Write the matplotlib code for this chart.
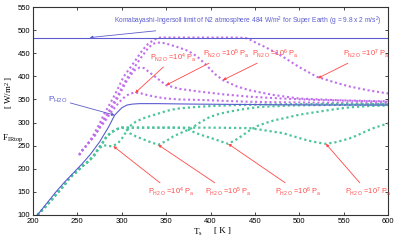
import numpy as np
import matplotlib
matplotlib.use('Agg')
import matplotlib.pyplot as plt

plt.rcParams['font.family'] = ['Liberation Sans', 'DejaVu Sans']
plt.rcParams['mathtext.default'] = 'regular'

# pure water curve (solid blue)
T_h2o = [205, 215, 225, 235, 245, 255, 265, 275, 285, 292, 300, 306, 312, 320, 340, 380, 450, 520, 600]
F_h2o = [100, 124, 148, 170, 190, 210, 232, 258, 290, 316, 332, 338, 340, 341, 341, 340, 339, 338, 338]

# Komabayashi-Ingersoll limit
F_ki = 484

# common low part of the H2O curves
T_g0 = [205, 210, 215, 220, 225, 230, 235, 240, 245, 250, 255, 260, 265, 270, 274]
F_g0 = [100, 110, 120, 131, 142, 153, 164, 177, 187, 195, 205, 212, 221, 232, 244]

T_g4 = [280, 285, 290, 296, 300, 305, 309, 316, 324, 332, 347, 356, 366, 385, 403, 430, 456, 500, 550, 600]
F_g4 = [251, 249, 249, 256, 265, 280, 292, 302, 309, 314, 323, 328, 331, 334, 336, 338, 339, 340, 340, 340]

T_g5 = [279, 283, 289, 295, 300, 305, 309, 316, 324, 332, 341, 350, 358, 367, 377, 388, 399, 410, 422, 440, 456, 490, 530, 600]
F_g5 = [258, 270, 280, 286, 289, 286, 277, 270, 264, 258, 252, 260, 270, 278, 286, 300, 312, 319, 324, 330, 334, 337, 338, 339]

T_g6 = [279, 283, 289, 295, 300, 320, 340, 360, 370, 377, 384, 393, 403, 412, 420, 428, 436, 444, 452, 462, 472, 482, 500, 520, 540, 557, 580, 600]
F_g6 = [258, 270, 280, 286, 289, 289, 289, 289, 288, 283, 277, 271, 265, 259, 254, 262, 272, 283, 292, 299, 305, 309, 317, 323, 329, 333, 336, 337]

T_g7 = [279, 283, 289, 295, 300, 340, 400, 444, 455, 465, 482, 492, 501, 510, 520, 530, 540, 550, 557, 565, 575, 585, 600]
F_g7 = [258, 270, 280, 286, 289, 289, 289, 288, 285, 282, 277, 271, 266, 261, 257, 254, 257, 262, 266, 272, 281, 289, 298]

# N2 curves
T_p4 = [252, 256, 261, 266, 270, 275, 280, 285, 290, 295, 300, 305, 310, 315, 320, 330, 340, 351, 365, 388, 415, 444, 480, 520, 560, 600]
F_p4 = [230, 241, 252, 264, 273, 288, 300, 314, 327, 339, 350, 358, 363, 365, 364, 359, 355, 352, 350, 349, 347, 345, 344, 343, 342, 342]

T_p5 = [252, 256, 261, 266, 270, 275, 280, 285, 290, 295, 300, 305, 310, 315, 320, 325, 335, 350, 365, 388, 415, 444, 480, 520, 560, 600]
F_p5 = [230, 241, 252, 264, 273, 290, 305, 320, 335, 352, 370, 388, 403, 414, 419, 418, 403, 381, 373, 367, 361, 356, 352, 349, 347, 345]

T_p6 = [252, 256, 261, 266, 270, 275, 280, 285, 290, 295, 300, 305, 310, 315, 320, 325, 330, 335, 339, 345, 350, 362, 375, 385, 395, 405, 414, 430, 444, 470, 500, 550, 600]
F_p6 = [230, 241, 252, 264, 274, 290, 308, 323, 340, 357, 375, 393, 408, 422, 436, 449, 462, 470, 473, 473, 471, 464, 455, 443, 425, 405, 392, 378, 370, 360, 352, 348, 346]

T_p7 = [252, 256, 261, 266, 270, 275, 280, 285, 290, 296, 302, 310, 317, 323, 330, 337, 343, 360, 400, 430, 440, 445, 452, 460, 470, 482, 500, 520, 540, 557, 580, 600]
F_p7 = [230, 241, 252, 266, 280, 298, 318, 335, 352, 375, 399, 420, 439, 456, 471, 480, 484, 484, 484, 484, 483, 479, 472, 465, 455, 442, 420, 399, 387, 378, 369, 363]

exps = ['4', '5', '6', '7']

blue = '#5c5cd0'
purple = '#c070ec'
green = '#4cc49c'
red = '#ff4848'

fig = plt.figure(figsize=(4, 2.44), dpi=100)
ax = fig.add_axes([0.0825, 0.119, 0.8875, 0.852])

dots = (0, (1, 1.3))
for T, F in [(T_p4, F_p4), (T_p5, F_p5), (T_p6, F_p6), (T_p7, F_p7)]:
    ax.plot(T, F, color=purple, lw=1.5, ls=dots)
for T, F in [(T_g4, F_g4), (T_g5, F_g5), (T_g6, F_g6), (T_g7, F_g7)]:
    ax.plot(T_g0 + T, F_g0 + F, color=green, lw=1.6, ls=dots)

ax.axhline(F_ki, color=blue, lw=0.8)
ax.plot(T_h2o, F_h2o, color=blue, lw=0.8)

ax.set_xlim(200, 600)
ax.set_ylim(100, 550)
ax.set_xticks(range(200, 601, 50))
ax.set_yticks(range(100, 551, 50))
ax.tick_params(direction='in', top=True, right=True, labelsize=5.5, length=2.5, width=0.5, pad=2)
for s in ax.spines.values():
    s.set_linewidth(0.8)
    s.set_color('#333333')

arr = dict(arrowstyle='-|>', lw=0.6, mutation_scale=4, shrinkA=0, shrinkB=0)

ax.annotate('Komabayashi-Ingersoll limit of N2 atmosphere 484 W/m$^2$ for Super Earth (g = 9.8 x 2 m/s$^2$)',
            xy=(264, 484), xytext=(291, 519), color=blue, fontsize=4.8, va='center',
            arrowprops=dict(arr, color=blue))
ax.annotate('P$_{H2O}$', xy=(292, 316), xytext=(217, 350), color=blue, fontsize=6, va='center',
            arrowprops=dict(arr, color=blue))

# N2 labels
n2_text_T = [332, 392, 447, 549]
n2_text_F = [440, 448, 448, 448]
n2_tip_T = [315, 350, 414, 521]
n2_tip_F = [364, 381, 392, 396]
for e, tx, ty, px, py in zip(exps, n2_text_T, n2_text_F, n2_tip_T, n2_tip_F):
    ax.annotate('P$_{N2\\,O}$ =10$^{%s}$ P$_{a}$' % e,
                xy=(px, py), xytext=(tx, ty), color=red, fontsize=5.3, va='center',
                arrowprops=dict(arr, color=red))

# H2O labels
h2o_text_T = [330, 394, 473, 551]
h2o_text_F = [150, 150, 150, 150]
h2o_tip_T = [290.5, 341, 420, 530]
h2o_tip_F = [249, 252, 254, 254]
for e, tx, ty, px, py in zip(exps, h2o_text_T, h2o_text_F, h2o_tip_T, h2o_tip_F):
    ax.annotate('P$_{H2\\,O}$ =10$^{%s}$ P$_{a}$' % e,
                xy=(px, py), xytext=(tx, ty), color=red, fontsize=5.3, va='center',
                arrowprops=dict(arr, color=red))

serif = 'Liberation Serif'
fig.text(0.004, 1 - 138 / 244, 'F$_{IRtop}$', fontsize=6.5, family=serif, va='center')
fig.text(0.022, 1 - 92 / 244, '[ W/m$^{2}$ ]', fontsize=6.5, family=serif, va='center',
         ha='center', rotation=90)
fig.text(193 / 400, 1 - 232 / 244, 'T$_{s}$', fontsize=6.5, family=serif, va='center')
fig.text(214 / 400, 1 - 231 / 244, '[ K ]', fontsize=6.5, family=serif, va='center')

fig.savefig('out.png', dpi=100)
